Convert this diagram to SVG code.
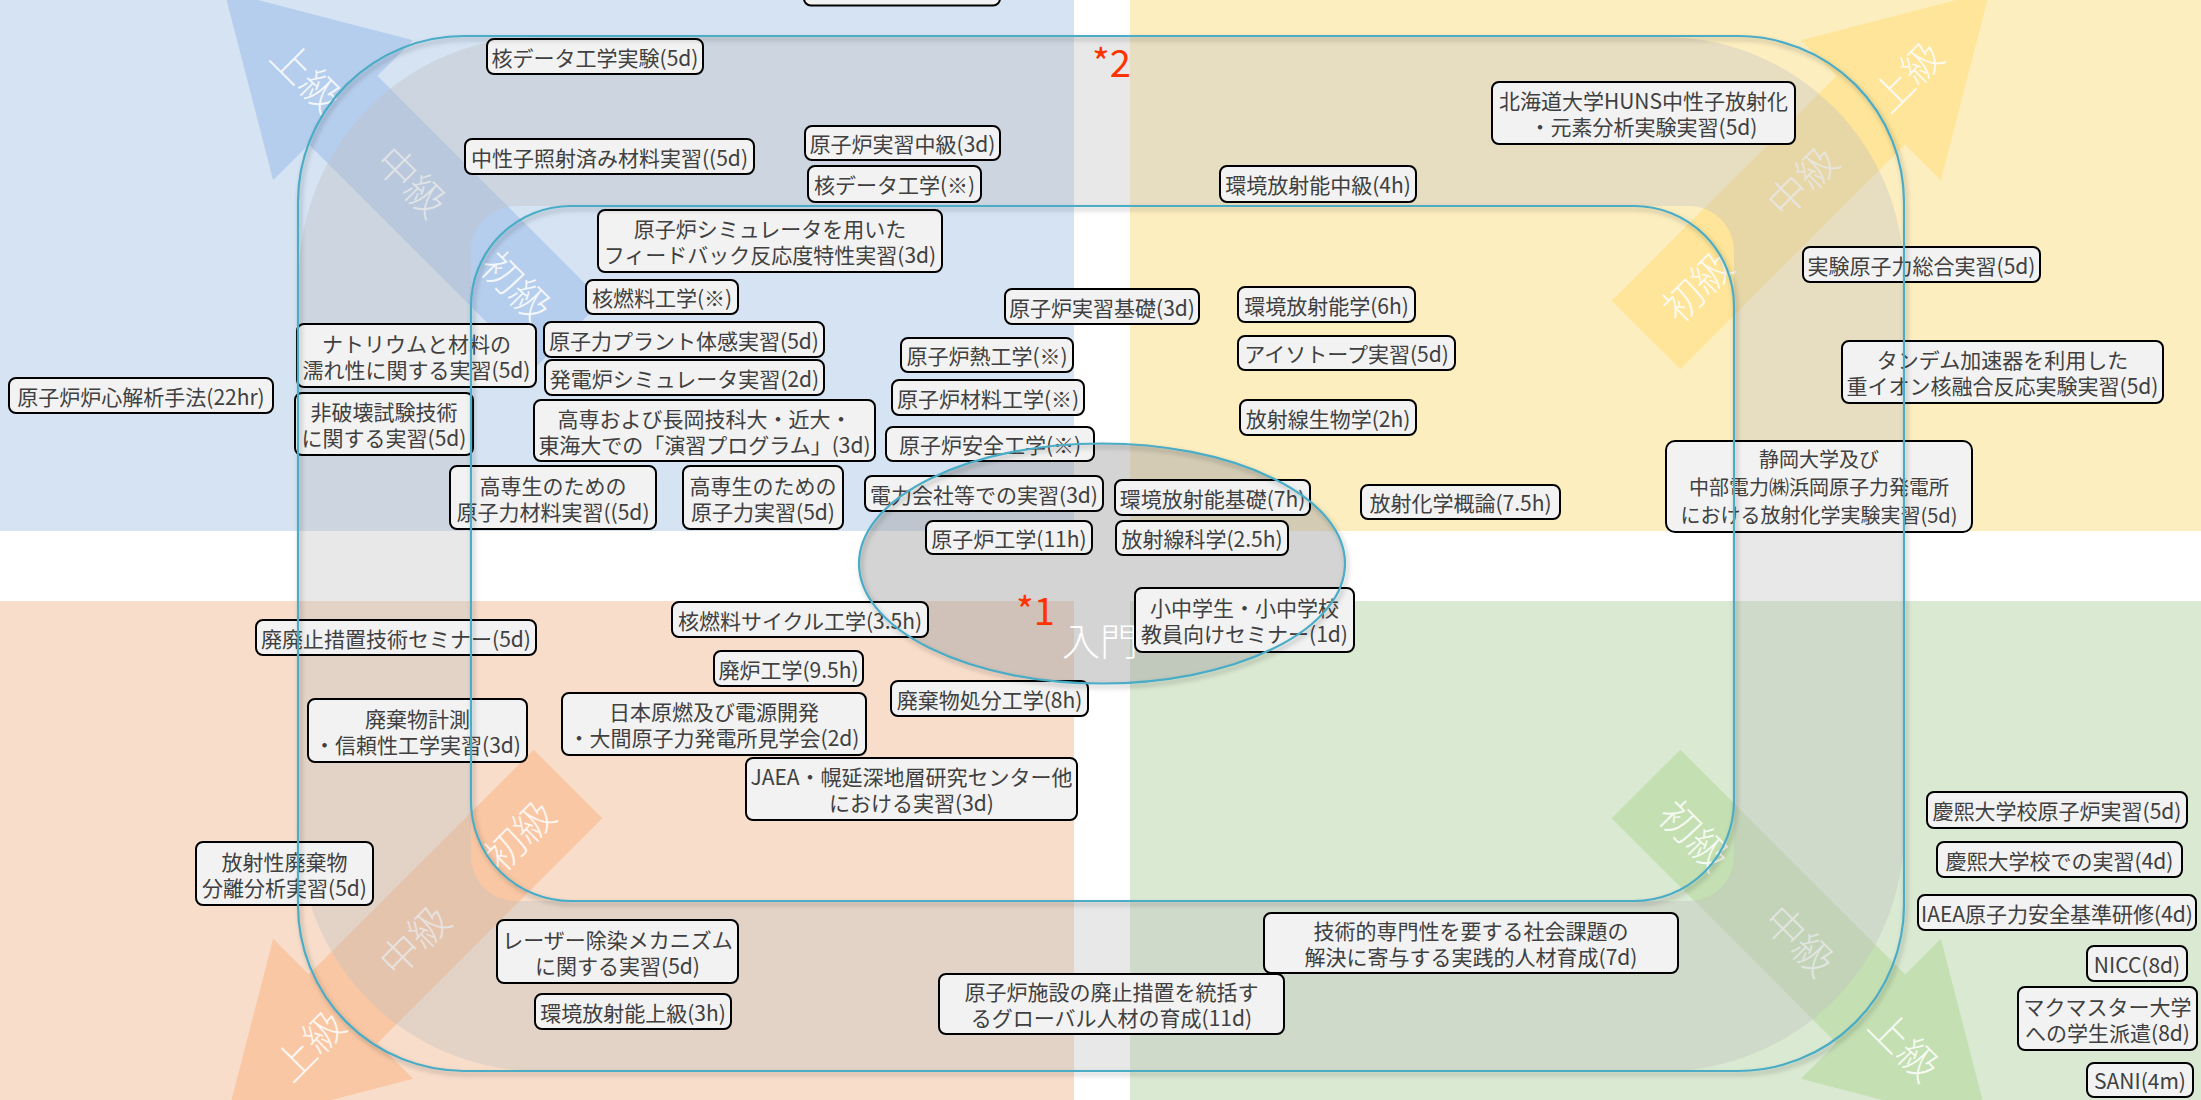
<svg xmlns="http://www.w3.org/2000/svg" width="2201" height="1100" viewBox="0 0 2201 1100">
<defs>
<style>
.n rect{fill:#F2F2F2;stroke:#000;stroke-width:2}
.n text{font-family:"Noto Sans CJK JP","Noto Sans",sans-serif;font-size:21px;fill:#404040;text-anchor:middle;dominant-baseline:central}
.n text.s{font-size:20px}
.lv{font-family:"Noto Sans CJK JP",sans-serif;font-size:40px;font-weight:300;fill:#fff;fill-opacity:0.85;text-anchor:middle;dominant-baseline:central}
.fr{fill:none;stroke:#4BACC6;stroke-width:2.2}
.mark{font-family:"Noto Sans CJK JP",sans-serif;font-size:38px;fill:#FF3300}
</style>
<polygon id="arr" points="0,-48.5 318,-48.5 318,-99 486,0 318,99 318,48.5 0,48.5"/>
<filter id="sh" x="-5%" y="-5%" width="110%" height="110%">
<feDropShadow dx="2" dy="3" stdDeviation="2.5" flood-color="#000" flood-opacity="0.3"/>
</filter>
</defs>
<g id="background">
<rect x="0" y="0" width="2201" height="1100" fill="#fff"/>
<rect x="0" y="0" width="1074" height="531" fill="#D5E3F3"/>
<rect x="1130" y="0" width="1071" height="531" fill="#FDEEC0"/>
<rect x="0" y="601" width="1074" height="499" fill="#F8DDCA"/>
<rect x="1130" y="601" width="1071" height="499" fill="#DAE9D2"/>
</g>
<g id="arrows">
<use href="#arr" transform="translate(568,335) rotate(-135)" fill="#9DBEE8" fill-opacity="0.55"/>
<use href="#arr" transform="translate(1646,335) rotate(-45)" fill="#FFE07F" fill-opacity="0.6"/>
<use href="#arr" transform="translate(568,784) rotate(135)" fill="#FBB98A" fill-opacity="0.6"/>
<use href="#arr" transform="translate(1646,784) rotate(45)" fill="#B5D89C" fill-opacity="0.6"/>
<text class="lv" transform="translate(518,285) rotate(45)">初級</text>
<text class="lv" transform="translate(413,180) rotate(45)">中級</text>
<text class="lv" transform="translate(308,75) rotate(45)">上級</text>
<text class="lv" transform="translate(1696,285) rotate(-45)">初級</text>
<text class="lv" transform="translate(1801,180) rotate(-45)">中級</text>
<text class="lv" transform="translate(1906,75) rotate(-45)">上級</text>
<text class="lv" transform="translate(518,834) rotate(-45)">初級</text>
<text class="lv" transform="translate(413,939) rotate(-45)">中級</text>
<text class="lv" transform="translate(308,1044) rotate(-45)">上級</text>
<text class="lv" transform="translate(1696,834) rotate(45)">初級</text>
<text class="lv" transform="translate(1801,939) rotate(45)">中級</text>
<text class="lv" transform="translate(1906,1044) rotate(45)">上級</text>
</g>
<g id="regions">
<path fill="#BFBFBF" fill-opacity="0.36" fill-rule="evenodd" d="M539 37H1664A240 240 0 0 1 1904 277V831A240 240 0 0 1 1664 1071H539A240 240 0 0 1 299 831V277A240 240 0 0 1 539 37Z M516 206H1689A45 45 0 0 1 1734 251V856A45 45 0 0 1 1689 901H516A45 45 0 0 1 471 856V251A45 45 0 0 1 516 206Z"/>
<ellipse cx="1102" cy="563.5" rx="243" ry="120" fill="#A6A6A6" fill-opacity="0.48"/>
<text x="1100" y="638" font-family="Noto Sans CJK JP,sans-serif" font-size="38" font-weight="300" fill="#fff" text-anchor="middle" dominant-baseline="central">入門</text>
<text class="mark" x="1016" y="625">*1</text>
<text class="mark" x="1092" y="77">*2</text>
</g>
<g id="nodes">
<g class="n" id="n1"><rect x="9" y="378" width="264" height="35" rx="7"/><text x="141" y="395.5">原子炉炉心解析手法(22hr)</text></g>
<g class="n" id="n2"><rect x="297" y="324" width="239" height="63" rx="7"/><text x="416.5" y="342.5">ナトリウムと材料の</text><text x="416.5" y="368.5">濡れ性に関する実習(5d)</text></g>
<g class="n" id="n3"><rect x="295" y="393" width="178" height="62" rx="7"/><text x="384" y="411">非破壊試験技術</text><text x="384" y="437">に関する実習(5d)</text></g>
<g class="n" id="n4"><rect x="487" y="39" width="216" height="35" rx="7"/><text x="595" y="56.5">核データ工学実験(5d)</text></g>
<g class="n" id="n5"><rect x="465" y="139" width="289" height="35" rx="7"/><text x="609.5" y="156.5">中性子照射済み材料実習((5d)</text></g>
<g class="n" id="n6"><rect x="450" y="466" width="206" height="63" rx="7"/><text x="553" y="484.5">高専生のための</text><text x="553" y="510.5">原子力材料実習((5d)</text></g>
<g class="n" id="n7"><rect x="804" y="-30" width="196" height="35.5" rx="7"/></g>
<g class="n" id="n8"><rect x="805" y="126" width="195" height="34" rx="7"/><text x="902.5" y="143">原子炉実習中級(3d)</text></g>
<g class="n" id="n9"><rect x="808" y="166" width="173" height="36" rx="7"/><text x="894.5" y="184">核データ工学(※)</text></g>
<g class="n" id="n10"><rect x="598" y="210" width="344" height="62" rx="7"/><text x="770" y="228">原子炉シミュレータを用いた</text><text x="770" y="254">フィードバック反応度特性実習(3d)</text></g>
<g class="n" id="n11"><rect x="586" y="280" width="152" height="34" rx="7"/><text x="662" y="297">核燃料工学(※)</text></g>
<g class="n" id="n12"><rect x="544" y="322" width="280" height="35" rx="7"/><text x="684" y="339.5">原子力プラント体感実習(5d)</text></g>
<g class="n" id="n13"><rect x="545" y="360" width="279" height="35" rx="7"/><text x="684.5" y="377.5">発電炉シミュレータ実習(2d)</text></g>
<g class="n" id="n14"><rect x="534" y="400" width="341" height="61" rx="7"/><text x="704.5" y="417.5">高専および長岡技科大・近大・</text><text x="704.5" y="443.5">東海大での「演習プログラム」(3d)</text></g>
<g class="n" id="n15"><rect x="683" y="466" width="160" height="63" rx="7"/><text x="763" y="484.5">高専生のための</text><text x="763" y="510.5">原子力実習(5d)</text></g>
<g class="n" id="n16"><rect x="1005" y="289" width="194" height="35" rx="7"/><text x="1102" y="306.5">原子炉実習基礎(3d)</text></g>
<g class="n" id="n17"><rect x="901" y="338" width="172" height="34" rx="7"/><text x="987" y="355">原子炉熱工学(※)</text></g>
<g class="n" id="n18"><rect x="892" y="380" width="192" height="35" rx="7"/><text x="988" y="397.5">原子炉材料工学(※)</text></g>
<g class="n" id="n19"><rect x="886" y="427" width="208" height="34" rx="7"/><text x="990" y="444">原子炉安全工学(※)</text></g>
<g class="n" id="n20"><rect x="865" y="476" width="238" height="35" rx="7"/><text x="984" y="493.5">電力会社等での実習(3d)</text></g>
<g class="n" id="n21"><rect x="926" y="521" width="166" height="33" rx="7"/><text x="1009" y="537.5">原子炉工学(11h)</text></g>
<g class="n" id="n22"><rect x="1220" y="166" width="196" height="36" rx="7"/><text x="1318" y="184">環境放射能中級(4h)</text></g>
<g class="n" id="n23"><rect x="1492" y="82" width="303" height="62" rx="7"/><text x="1643.5" y="100">北海道大学HUNS中性子放射化</text><text x="1643.5" y="126">・元素分析実験実習(5d)</text></g>
<g class="n" id="n24"><rect x="1238" y="287" width="177" height="35" rx="7"/><text x="1326.5" y="304.5">環境放射能学(6h)</text></g>
<g class="n" id="n25"><rect x="1238" y="336" width="217" height="34" rx="7"/><text x="1346.5" y="353">アイソトープ実習(5d)</text></g>
<g class="n" id="n26"><rect x="1240" y="400" width="176" height="35" rx="7"/><text x="1328" y="417.5">放射線生物学(2h)</text></g>
<g class="n" id="n27"><rect x="1115" y="480" width="195" height="35" rx="7"/><text x="1212.5" y="497.5">環境放射能基礎(7h)</text></g>
<g class="n" id="n28"><rect x="1116" y="521" width="172" height="34" rx="7"/><text x="1202" y="538">放射線科学(2.5h)</text></g>
<g class="n" id="n29"><rect x="1361" y="485" width="199" height="34" rx="7"/><text x="1460.5" y="502">放射化学概論(7.5h)</text></g>
<g class="n" id="n30"><rect x="1803" y="247" width="237" height="35" rx="7"/><text x="1921.5" y="264.5">実験原子力総合実習(5d)</text></g>
<g class="n" id="n31"><rect x="1842" y="341" width="321" height="62" rx="7"/><text x="2002.5" y="359">タンデム加速器を利用した</text><text x="2002.5" y="385">重イオン核融合反応実験実習(5d)</text></g>
<g class="n" id="n32"><rect x="1666" y="441" width="306" height="91" rx="9"/><text class="s" x="1819" y="458.5">静岡大学及び</text><text class="s" x="1819" y="486.5">中部電力㈱浜岡原子力発電所</text><text class="s" x="1819" y="514.5">における放射化学実験実習(5d)</text></g>
<g class="n" id="n33"><rect x="256" y="620" width="280" height="35" rx="7"/><text x="396" y="637.5">廃廃止措置技術セミナー(5d)</text></g>
<g class="n" id="n34"><rect x="308" y="699" width="219" height="63" rx="7"/><text x="417.5" y="717.5">廃棄物計測</text><text x="417.5" y="743.5">・信頼性工学実習(3d)</text></g>
<g class="n" id="n35"><rect x="196" y="842" width="177" height="63" rx="7"/><text x="284.5" y="860.5">放射性廃棄物</text><text x="284.5" y="886.5">分離分析実習(5d)</text></g>
<g class="n" id="n36"><rect x="672" y="602" width="256" height="35" rx="7"/><text x="800" y="619.5">核燃料サイクル工学(3.5h)</text></g>
<g class="n" id="n37"><rect x="714" y="651" width="149" height="35" rx="7"/><text x="788.5" y="668.5">廃炉工学(9.5h)</text></g>
<g class="n" id="n38"><rect x="562" y="693" width="304" height="62" rx="7"/><text x="714" y="711">日本原燃及び電源開発</text><text x="714" y="737">・大間原子力発電所見学会(2d)</text></g>
<g class="n" id="n39"><rect x="891" y="681" width="197" height="35" rx="7"/><text x="989.5" y="698.5">廃棄物処分工学(8h)</text></g>
<g class="n" id="n40"><rect x="746" y="758" width="331" height="62" rx="7"/><text x="911.5" y="776">JAEA・幌延深地層研究センター他</text><text x="911.5" y="802">における実習(3d)</text></g>
<g class="n" id="n41"><rect x="497" y="920" width="241" height="63" rx="7"/><text x="617.5" y="938.5">レーザー除染メカニズム</text><text x="617.5" y="964.5">に関する実習(5d)</text></g>
<g class="n" id="n42"><rect x="535" y="994" width="196" height="35" rx="7"/><text x="633" y="1011.5">環境放射能上級(3h)</text></g>
<g class="n" id="n43"><rect x="939" y="974" width="345" height="60" rx="7"/><text x="1111.5" y="991">原子炉施設の廃止措置を統括す</text><text x="1111.5" y="1017">るグローバル人材の育成(11d)</text></g>
<g class="n" id="n44"><rect x="1135" y="588" width="219" height="64" rx="7"/><text x="1244.5" y="607">小中学生・小中学校</text><text x="1244.5" y="633">教員向けセミナー(1d)</text></g>
<g class="n" id="n45"><rect x="1264" y="913" width="414" height="60" rx="7"/><text x="1471" y="930">技術的専門性を要する社会課題の</text><text x="1471" y="956">解決に寄与する実践的人材育成(7d)</text></g>
<g class="n" id="n46"><rect x="1927" y="792" width="260" height="36" rx="7"/><text x="2057" y="810">慶熙大学校原子炉実習(5d)</text></g>
<g class="n" id="n47"><rect x="1937" y="842" width="245" height="35" rx="7"/><text x="2059.5" y="859.5">慶熙大学校での実習(4d)</text></g>
<g class="n" id="n48"><rect x="1918" y="895" width="278" height="35" rx="7"/><text x="2057" y="912.5">IAEA原子力安全基準研修(4d)</text></g>
<g class="n" id="n49"><rect x="2087" y="946" width="100" height="35" rx="7"/><text x="2137" y="963.5">NICC(8d)</text></g>
<g class="n" id="n50"><rect x="2018" y="987" width="179" height="63" rx="7"/><text x="2107.5" y="1005.5">マクマスター大学</text><text x="2107.5" y="1031.5">への学生派遣(8d)</text></g>
<g class="n" id="n51"><rect x="2087" y="1063" width="106" height="34" rx="7"/><text x="2140" y="1080">SANI(4m)</text></g>
</g>
<g id="connectors">
<rect class="fr" filter="url(#sh)" x="298" y="36" width="1606" height="1035" rx="166"/>
<rect class="fr" filter="url(#sh)" x="471" y="206" width="1263" height="695" rx="100"/>
<ellipse class="fr" filter="url(#sh)" cx="1102" cy="563.5" rx="243" ry="120"/>
</g>
</svg>
